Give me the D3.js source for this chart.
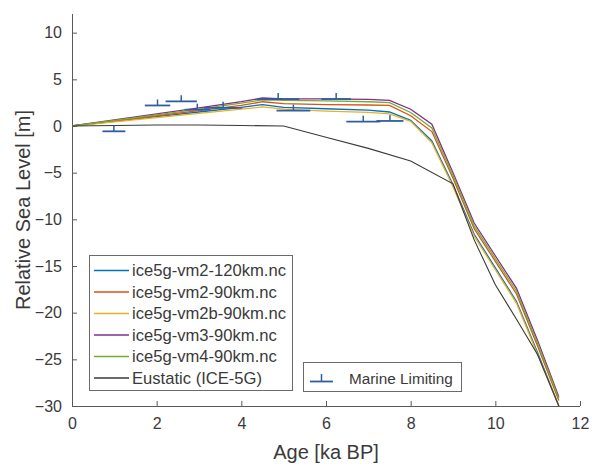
<!DOCTYPE html>
<html><head><meta charset="utf-8">
<script src="https://cdn.jsdelivr.net/npm/d3@7"></script>
<style>body{margin:0;background:#fff;}svg{display:block;font-family:"Liberation Sans",Arial,Helvetica,sans-serif;}</style>
</head><body>
<script>
const ages = [0,1,2,3,4,4.5,5,6,7,7.5,8,8.5,9,9.5,10,10.5,11,11.5];
const seriesNames = ["ice5g-vm2-120km.nc","ice5g-vm2-90km.nc","ice5g-vm2b-90km.nc","ice5g-vm3-90km.nc","ice5g-vm4-90km.nc"];
const seriesColors = ["#0072BD","#D95319","#EDB120","#7E2F8E","#77AC30"];
const vm2_120 = [0,0.5,1.0,1.5,2.0,2.3,2.0,1.85,1.7,1.5,0.6,-1.6,-6.3,-11.6,-15.2,-18.8,-24.3,-30.0];
const vm2_90  = [0,0.55,1.1,1.65,2.2,2.6,2.4,2.3,2.25,2.2,1.1,-0.6,-5.6,-11.0,-14.5,-18.0,-23.6,-29.4];
const vm2b_90 = [0,0.45,0.9,1.35,1.8,2.05,1.8,1.6,1.45,1.3,0.5,-1.8,-6.5,-11.8,-15.4,-19.0,-24.5,-30.0];
const vm3_90  = [0,0.65,1.3,1.95,2.6,3.0,2.9,2.9,2.85,2.75,1.8,0.2,-5.0,-10.4,-13.9,-17.4,-23.0,-29.0];
const vm4_90  = [0,0.6,1.2,1.8,2.45,2.8,2.75,2.7,2.6,2.5,1.45,-0.2,-5.3,-10.7,-14.2,-17.7,-23.3,-29.2];
const eustaticAges = [0,1,2,3,4,5,6,7,8,9,9.5,10,10.5,11,11.5];
const eustatic = [0,0.05,0.1,0.1,0.05,0,-1.2,-2.4,-3.75,-6.2,-12.2,-17.0,-20.7,-24.5,-30.0];
const marineAge = [0.99,2.02,2.58,2.96,3.57,4.87,5.23,6.24,6.88,7.51];
const marineRSL = [-0.57,2.2,2.64,1.75,1.95,2.89,1.65,2.89,0.46,0.54];
const marineAgeErr = [0.27,0.3,0.37,0.3,0.45,0.5,0.4,0.35,0.4,0.32];
const xTicks = [0,2,4,6,8,10,12];
const yTicks = [-30,-25,-20,-15,-10,-5,0,5,10];

const W=592,H=466;
const svg=d3.select("body").append("svg").attr("width",W).attr("height",H);
const x=d3.scaleLinear().domain([0,12]).range([72,580]);
const y=d3.scaleLinear().domain([-30,12]).range([406,14]);
const txt="#3a3a3a", axc="#5a5a5a";

// axes
const gx=svg.append("g").attr("transform",`translate(0,${y(-30)})`)
  .call(d3.axisBottom(x).tickValues(xTicks).tickSizeInner(-5).tickSizeOuter(0).tickPadding(12));
const gy=svg.append("g").attr("transform",`translate(${x(0)},0)`)
  .call(d3.axisLeft(y).tickValues(yTicks).tickSizeInner(-5).tickSizeOuter(0).tickPadding(10));
[gx,gy].forEach(g=>{
  g.select(".domain").attr("stroke",axc).attr("stroke-width",1);
  g.selectAll(".tick line").attr("stroke",axc);
  g.selectAll(".tick text").attr("fill",txt).style("font-size","16px").style("font-family","inherit");
});
gy.select(".domain").attr("d",`M0.5,${y(12)}V${y(-30)}`);
gx.select(".domain").attr("d",`M${x(0)},0.5H${x(12)}`);

svg.append("text").attr("x",(x(0)+x(12))/2).attr("y",459).attr("text-anchor","middle")
  .attr("fill",txt).style("font-size","20px").text("Age [ka BP]");
svg.append("text").attr("transform",`translate(30,${(y(12)+y(-30))/2}) rotate(-90)`).attr("text-anchor","middle")
  .attr("fill",txt).style("font-size","20px").text("Relative Sea Level [m]");

const line=d3.line().x(d=>x(d[0])).y(d=>y(d[1]));
const allSeries=[vm2_120,vm2_90,vm2b_90,vm3_90,vm4_90];
allSeries.forEach((s,i)=>{
  svg.append("path").datum(ages.map((a,j)=>[a,s[j]])).attr("d",line)
    .attr("fill","none").attr("stroke",seriesColors[i]).attr("stroke-width",1.3);
});
svg.append("path").datum(eustaticAges.map((a,j)=>[a,eustatic[j]])).attr("d",line)
  .attr("fill","none").attr("stroke","#3a3a3a").attr("stroke-width",1.1);

// marine limiting
const mc="#2F5EA3";
const mg=svg.append("g");
marineAge.forEach((a,i)=>{
  mg.append("line").attr("x1",x(a-marineAgeErr[i])).attr("x2",x(a+marineAgeErr[i]))
    .attr("y1",y(marineRSL[i])).attr("y2",y(marineRSL[i])).attr("stroke",mc).attr("stroke-width",1.8);
  mg.append("line").attr("x1",x(a)).attr("x2",x(a)).attr("y1",y(marineRSL[i])).attr("y2",y(marineRSL[i])-6)
    .attr("stroke",mc).attr("stroke-width",1.5);
});

// legend 1
const lg=svg.append("g");
lg.append("rect").attr("x",89.5).attr("y",255.5).attr("width",203).attr("height",135)
  .attr("fill","#fff").attr("stroke","#6a6a6a").attr("stroke-width",1);
const legNames=seriesNames.concat(["Eustatic (ICE-5G)"]);
const legColors=seriesColors.concat(["#3a3a3a"]);
legNames.forEach((n,i)=>{
  const yy=270.5+i*21.5;
  lg.append("line").attr("x1",94).attr("x2",129).attr("y1",yy).attr("y2",yy).attr("stroke",legColors[i]).attr("stroke-width",1.3);
  lg.append("text").attr("x",132).attr("y",yy).attr("dy","0.36em").attr("fill",txt).style("font-size","16.6px").text(n);
});
// legend 2
const lg2=svg.append("g");
lg2.append("rect").attr("x",303.5).attr("y",362.5).attr("width",158).attr("height",29)
  .attr("fill","#fff").attr("stroke","#6a6a6a").attr("stroke-width",1);
lg2.append("line").attr("x1",310).attr("x2",333).attr("y1",381.5).attr("y2",381.5).attr("stroke",mc).attr("stroke-width",1.8);
lg2.append("line").attr("x1",321.5).attr("x2",321.5).attr("y1",381.5).attr("y2",374).attr("stroke",mc).attr("stroke-width",1.5);
lg2.append("text").attr("x",349).attr("y",378).attr("dy","0.36em").attr("fill",txt).style("font-size","15.3px").text("Marine Limiting");
</script>
</body></html>
